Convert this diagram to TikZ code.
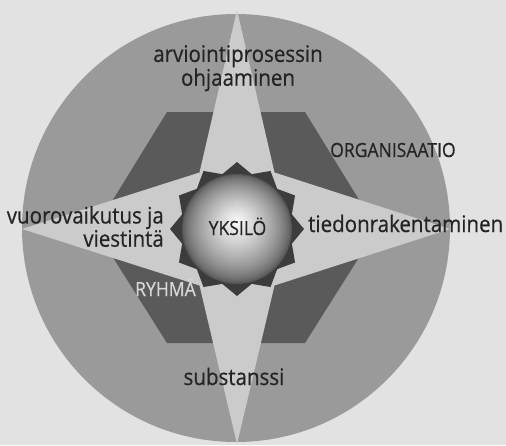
\documentclass[tikz,border=0pt]{standalone}
\usepackage{fontspec}
\setmainfont{Open Sans}
\newfontfamily\labfont[FakeStretch=0.9,FakeBold=0.5]{Open Sans}
\usetikzlibrary{shapes.geometric}
\definecolor{bgc}{HTML}{E2E2E2}
\definecolor{circc}{HTML}{9A9A9A}
\definecolor{hexc}{HTML}{5A5A5A}
\definecolor{starc}{HTML}{CBCBCB}
\definecolor{corec}{HTML}{3C3C3C}
\definecolor{txtc}{HTML}{242424}
\definecolor{ryhc}{HTML}{D8D8D8}
\definecolor{edgec}{HTML}{555555}
\tikzset{
  lowlbl/.style={inner sep=0pt, text=txtc, font=\labfont\fontsize{22.8}{20}\selectfont},
  caplbl/.style={inner sep=0pt, text=txtc, font=\labfont\fontsize{19.5}{19}\selectfont},
}
\begin{document}
\begin{tikzpicture}[x=1pt,y=-1pt]
\useasboundingbox (0,0) rectangle (506,445);
\fill[bgc] (0,0) rectangle (506,445);
% outer circle
\fill[circc] (236,228) circle (214pt);
% hexagon
\fill[hexc] (167,112) -- (305,112) -- (377,229) -- (305,343) -- (167,343) -- (95,229) -- cycle;
% four-pointed star
\fill[starc] (237,10) -- (274.5,172.5) -- (450,229) -- (274.5,285.5) -- (237,444)
  -- (199.5,285.5) -- (22,229) -- (199.5,172.5) -- cycle;
% core star
\node[star, star points=12, star point ratio=1.18, minimum size=134pt, inner sep=0pt, fill=corec] (core) at (237,229) {};
% sphere
\foreach \i in {0,...,44}{
  \pgfmathsetmacro\rr{55*(1-\i/46)}
  \pgfmathsetmacro\cc{96*(\i/44)^0.7}
  \pgfmathsetmacro\yy{229-7*\i/44}
  \fill[white!\cc!edgec] (237,\yy) circle (\rr pt);
}
% labels
\node[lowlbl, align=center, anchor=north] (top) at (238,45) {arviointiprosessin\\ohjaaminen};
\node[lowlbl, align=right, anchor=north east] (left) at (164,206) {vuorovaikutus ja\\viestintä};
\node[lowlbl, anchor=base west] (right) at (308,232) {tiedonrakentaminen};
\node[lowlbl, anchor=base] (bottom) at (234,385) {substanssi};
\node[caplbl, anchor=base west] (org) at (330,157) {ORGANISAATIO};
\node[caplbl, anchor=base] (yks) at (237.5,235) {YKSILÖ};
\node[caplbl, anchor=base west, text=ryhc] (ryh) at (135,296) {RYHMÄ};
\end{tikzpicture}
\end{document}
